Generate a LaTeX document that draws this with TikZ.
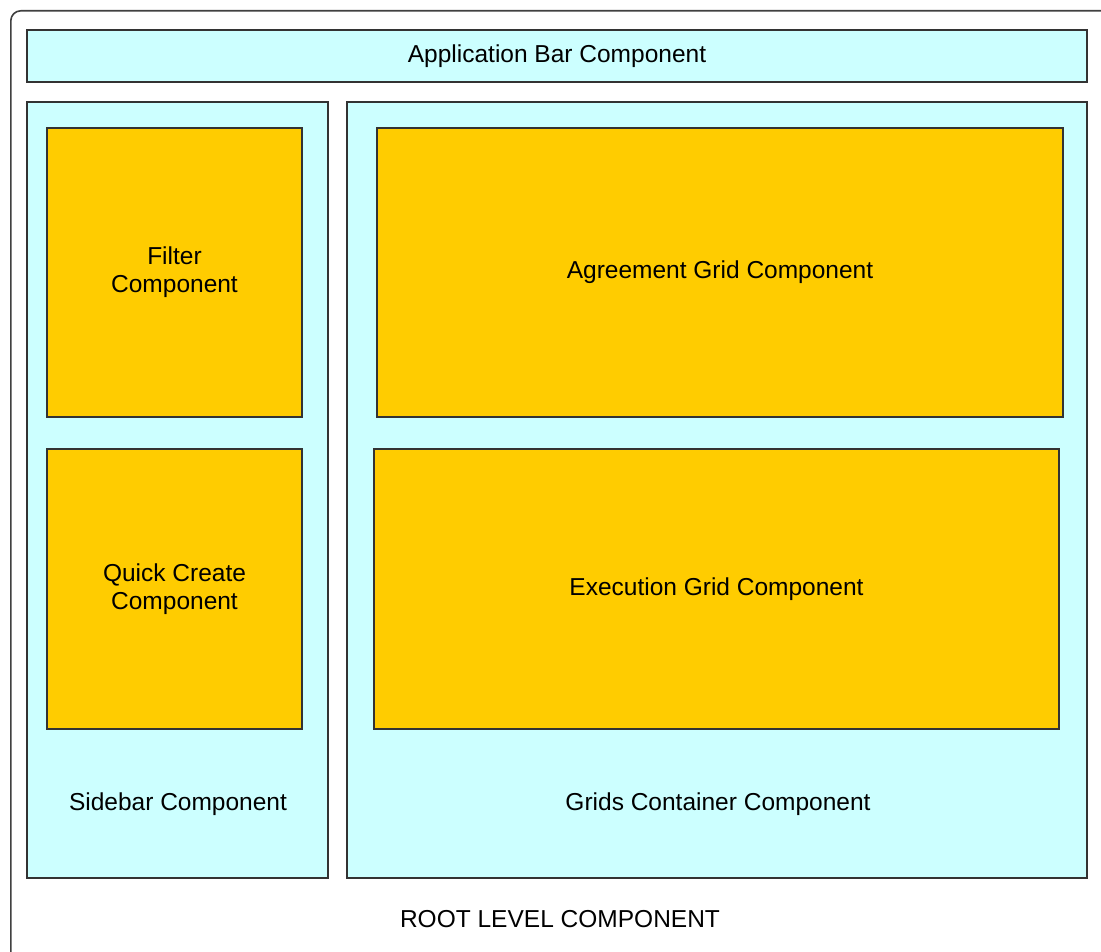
\documentclass[tikz,border=0pt]{standalone}
\usepackage{fontspec}
\setmainfont{Liberation Sans}
\definecolor{contcyan}{HTML}{CCFFFF}
\definecolor{compgold}{HTML}{FFCC00}
\begin{document}
\begin{tikzpicture}[
        x=1pt, y=-1pt,
        cont/.style={rectangle, draw=black!80, line width=1.3pt, fill=contcyan, inner sep=0pt},
        comp/.style={rectangle, draw=black!80, line width=1.3pt, fill=compgold, inner sep=0pt, align=center, font=\fontsize{24.5}{28}\selectfont},
        lbl/.style={font=\fontsize{24.5}{28}\selectfont, inner sep=0pt}
    ]
    \useasboundingbox (0,0) rectangle (1101,952);
    % outer frame, cut by the page edge
    \node[rectangle, draw=black!75, line width=1.6pt, rounded corners=10pt, fill=white,
          minimum width=1120pt, minimum height=960pt, anchor=north west] (root) at (10,10) {};
    \node[lbl] (rootlbl) at (560,919) {ROOT LEVEL COMPONENT};

    \node[cont, minimum width=1060pt, minimum height=52pt, font=\fontsize{24.5}{28}\selectfont] (appbar) at (557,56) {Application Bar Component};

    \node[cont, minimum width=301pt, minimum height=776pt] (sidebar) at (177.5,490) {};
    \node[lbl] (sidebarlbl) at (178,804) {Sidebar Component};
    \node[cont, minimum width=740pt, minimum height=776pt] (grids) at (717,490) {};
    \node[lbl] (gridslbl) at (718,804) {Grids Container Component};

    \node[comp, minimum width=255pt, minimum height=289pt] (filter) at (174.5,272.5) {Filter\\Component};
    \node[comp, minimum width=255pt, minimum height=280pt] (quick) at (174.5,589) {Quick Create\\Component};
    \node[comp, minimum width=686pt, minimum height=289pt] (agreement) at (720,272.5) {Agreement Grid Component};
    \node[comp, minimum width=685pt, minimum height=280pt] (execution) at (716.5,589) {Execution Grid Component};
\end{tikzpicture}
\end{document}
